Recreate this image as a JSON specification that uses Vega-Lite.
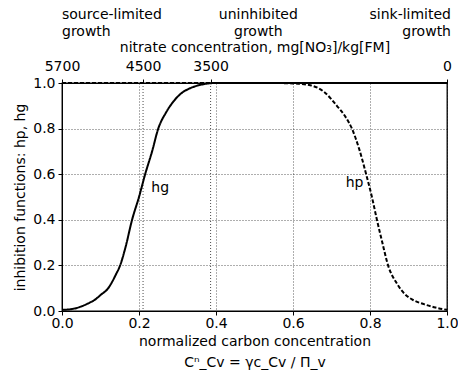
{
  "$schema": "https://vega.github.io/schema/vega-lite/v6.json",
  "width": 385,
  "height": 228,
  "autosize": {"type": "none"},
  "padding": {"left": 62, "top": 83, "right": 11, "bottom": 61},
  "config": {
    "font": "DejaVu Sans",
    "view": {"stroke": "#000", "strokeWidth": 1.3},
    "axis": {
      "labelFont": "DejaVu Sans", "titleFont": "DejaVu Sans",
      "labelFontSize": 14, "titleFontSize": 14, "titleFontWeight": "normal",
      "labelColor": "#000", "titleColor": "#000",
      "domainColor": "#000", "tickColor": "#000", "tickSize": 4,
      "gridColor": "#000", "gridDash": [1, 2], "gridWidth": 0.8, "gridOpacity": 0.8
    },
    "text": {"font": "DejaVu Sans", "fontSize": 14, "color": "#000"}
  },
  "layer": [
    {
      "layer": [
        {
          "data": {"values": [
            {"c": 0.0, "h": 0.005, "curve": "hg"},
            {"c": 0.03, "h": 0.01, "curve": "hg"},
            {"c": 0.05, "h": 0.02, "curve": "hg"},
            {"c": 0.07, "h": 0.035, "curve": "hg"},
            {"c": 0.086, "h": 0.05, "curve": "hg"},
            {"c": 0.1, "h": 0.07, "curve": "hg"},
            {"c": 0.12, "h": 0.1, "curve": "hg"},
            {"c": 0.14, "h": 0.16, "curve": "hg"},
            {"c": 0.151, "h": 0.2, "curve": "hg"},
            {"c": 0.165, "h": 0.28, "curve": "hg"},
            {"c": 0.182, "h": 0.4, "curve": "hg"},
            {"c": 0.2, "h": 0.5, "curve": "hg"},
            {"c": 0.216, "h": 0.6, "curve": "hg"},
            {"c": 0.234, "h": 0.7, "curve": "hg"},
            {"c": 0.25, "h": 0.8, "curve": "hg"},
            {"c": 0.27, "h": 0.87, "curve": "hg"},
            {"c": 0.29, "h": 0.92, "curve": "hg"},
            {"c": 0.31, "h": 0.955, "curve": "hg"},
            {"c": 0.33, "h": 0.975, "curve": "hg"},
            {"c": 0.36, "h": 0.992, "curve": "hg"},
            {"c": 0.4, "h": 1.0, "curve": "hg"},
            {"c": 1.0, "h": 1.0, "curve": "hg"},
            {"c": 0.0, "h": 1.0, "curve": "hp"},
            {"c": 0.55, "h": 1.0, "curve": "hp"},
            {"c": 0.6, "h": 0.998, "curve": "hp"},
            {"c": 0.645, "h": 0.99, "curve": "hp"},
            {"c": 0.68, "h": 0.962, "curve": "hp"},
            {"c": 0.714, "h": 0.9, "curve": "hp"},
            {"c": 0.735, "h": 0.855, "curve": "hp"},
            {"c": 0.753, "h": 0.8, "curve": "hp"},
            {"c": 0.772, "h": 0.71, "curve": "hp"},
            {"c": 0.79, "h": 0.6, "curve": "hp"},
            {"c": 0.805, "h": 0.5, "curve": "hp"},
            {"c": 0.818, "h": 0.4, "curve": "hp"},
            {"c": 0.832, "h": 0.3, "curve": "hp"},
            {"c": 0.847, "h": 0.2, "curve": "hp"},
            {"c": 0.87, "h": 0.12, "curve": "hp"},
            {"c": 0.89, "h": 0.075, "curve": "hp"},
            {"c": 0.91, "h": 0.05, "curve": "hp"},
            {"c": 0.94, "h": 0.03, "curve": "hp"},
            {"c": 0.97, "h": 0.015, "curve": "hp"},
            {"c": 1.0, "h": 0.005, "curve": "hp"}
          ]},
          "mark": {"type": "line", "color": "#000", "strokeWidth": 2, "interpolate": "monotone"},
          "encoding": {
            "x": {
              "field": "c", "type": "quantitative",
              "scale": {"domain": [0, 1], "nice": false, "zero": false},
              "axis": {
                "values": [0, 0.2, 0.4, 0.6, 0.8, 1.0], "format": ".1f",
                "labelPadding": 1, "labelFlush": false,
                "title": ["normalized carbon concentration", "Cⁿ_Cv = γc_Cv / Π_v"],
                "titlePadding": 4, "titleLineHeight": 21
              }
            },
            "y": {
              "field": "h", "type": "quantitative",
              "scale": {"domain": [0, 1], "nice": false},
              "axis": {
                "values": [0, 0.2, 0.4, 0.6, 0.8, 1.0], "format": ".1f",
                "labelPadding": 3, "labelFlush": false,
                "title": "inhibition functions: hp, hg", "titlePadding": 5
              }
            },
            "strokeDash": {
              "field": "curve", "type": "nominal",
              "scale": {"domain": ["hg", "hp"], "range": [[1, 0], [4, 2]]},
              "legend": null
            },
            "detail": {"field": "curve"}
          }
        },
        {
          "data": {"values": [
            {"label": "hg", "c": 0.255, "h": 0.54},
            {"label": "hp", "c": 0.76, "h": 0.56}
          ]},
          "mark": {"type": "text", "align": "center", "baseline": "middle"},
          "encoding": {
            "x": {"field": "c", "type": "quantitative", "scale": {"domain": [0, 1]}},
            "y": {"field": "h", "type": "quantitative", "scale": {"domain": [0, 1]}},
            "text": {"field": "label"}
          }
        },
        {
          "data": {"values": [{}]},
          "mark": {"type": "text", "align": "left", "baseline": "middle", "lineHeight": 17, "text": ["source-limited", "growth"]},
          "encoding": {
            "x": {"datum": 0, "type": "quantitative", "scale": {"domain": [0, 1]}},
            "y": {"datum": 1.3, "type": "quantitative", "scale": {"domain": [0, 1]}}
          }
        },
        {
          "data": {"values": [{}]},
          "mark": {"type": "text", "align": "center", "baseline": "middle", "lineHeight": 17, "text": ["uninhibited", "growth"]},
          "encoding": {
            "x": {"datum": 0.51, "type": "quantitative", "scale": {"domain": [0, 1]}},
            "y": {"datum": 1.3, "type": "quantitative", "scale": {"domain": [0, 1]}}
          }
        },
        {
          "data": {"values": [{}]},
          "mark": {"type": "text", "align": "right", "baseline": "middle", "lineHeight": 17, "dx": 4, "text": ["sink-limited", "growth"]},
          "encoding": {
            "x": {"datum": 1, "type": "quantitative", "scale": {"domain": [0, 1]}},
            "y": {"datum": 1.3, "type": "quantitative", "scale": {"domain": [0, 1]}}
          }
        }
      ]
    },
    {
      "data": {"values": [{"n": 4500}, {"n": 3500}]},
      "mark": {"type": "rule", "color": "#000", "strokeDash": [1, 2], "strokeWidth": 0.8, "opacity": 0.9},
      "encoding": {
        "x": {
          "field": "n", "type": "quantitative",
          "scale": {"domain": [0, 5700], "reverse": true, "nice": false, "zero": false},
          "axis": {
            "orient": "top", "values": [5700, 4500, 3500, 0], "format": "d",
            "grid": false, "labelPadding": 6, "labelFlush": false,
            "title": "nitrate concentration,  mg[NO₃]/kg[FM]", "titlePadding": 5
          }
        }
      }
    }
  ],
  "resolve": {"scale": {"x": "independent"}}
}
